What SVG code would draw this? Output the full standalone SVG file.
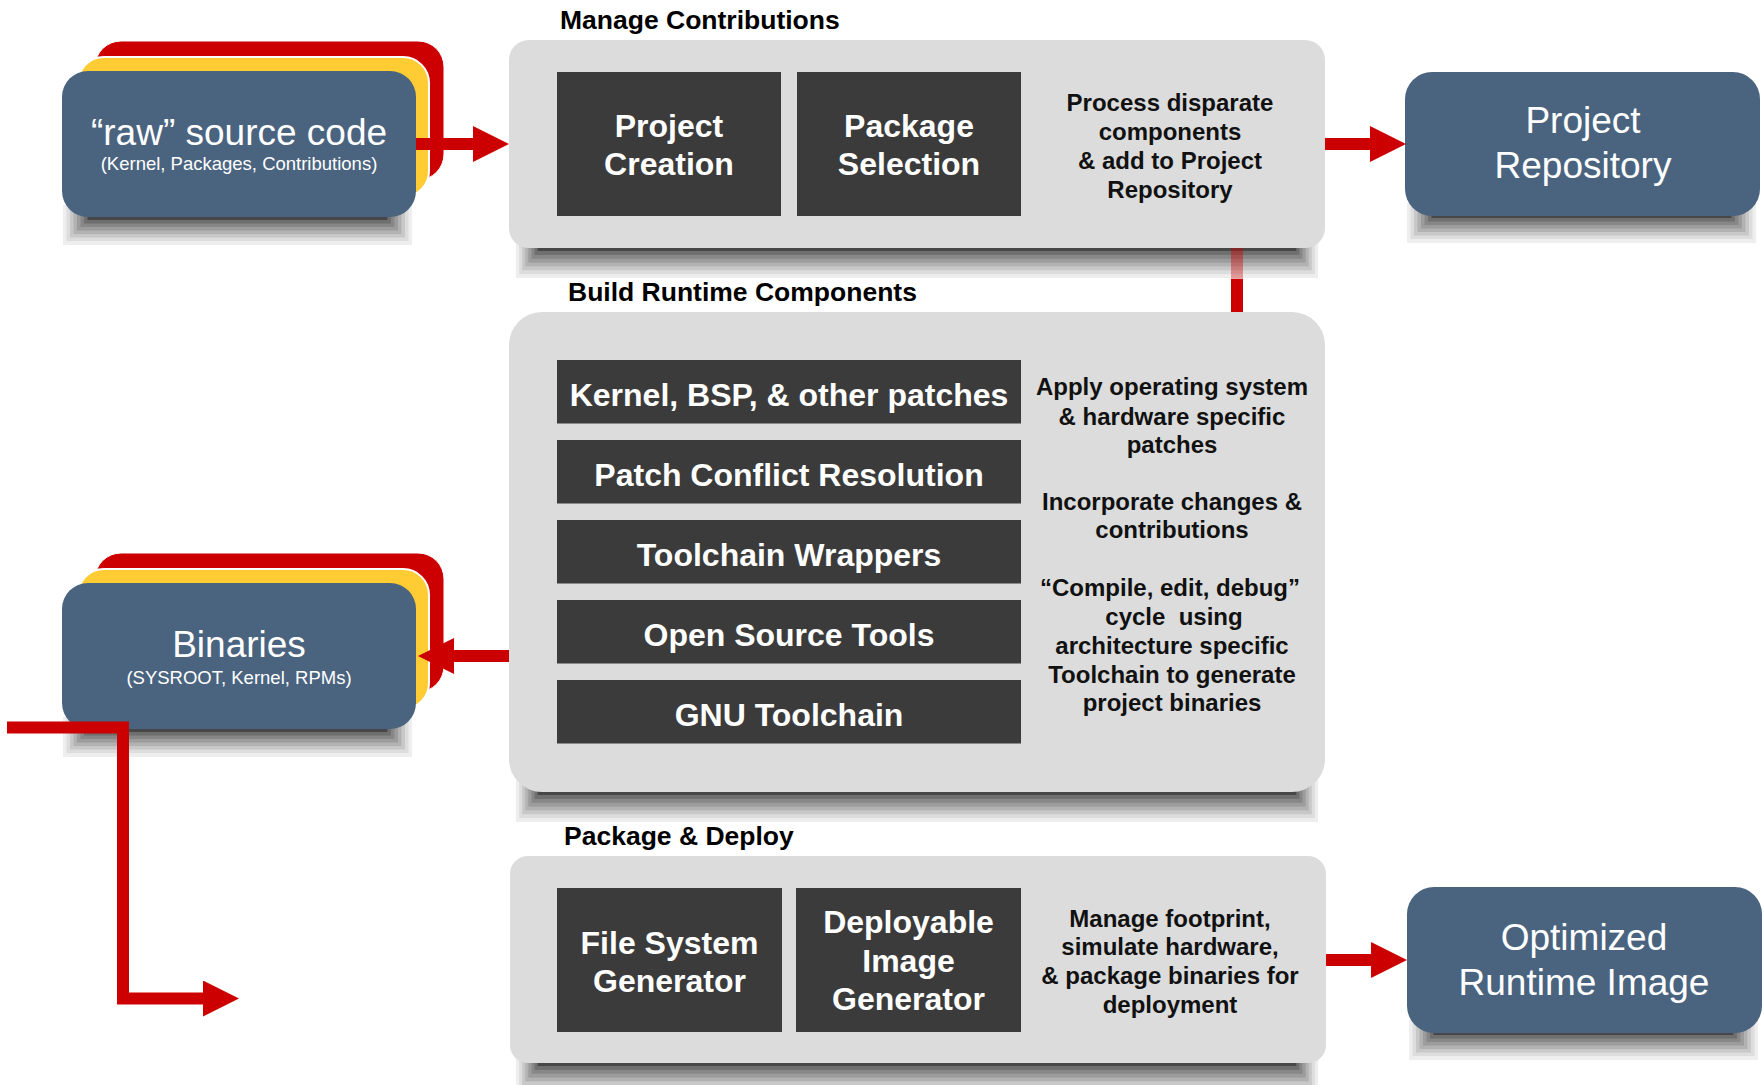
<svg xmlns="http://www.w3.org/2000/svg" width="1764" height="1085" viewBox="0 0 1764 1085">
<defs>
<style>
.panel{fill:#dcdcdc}
.dark{fill:#3b3b3b}
.blue{fill:#4a6480}
.red{fill:#cc0000;stroke:#fff;stroke-width:1}
.yel{fill:#ffcc33;stroke:#fff;stroke-width:2}
text{font-family:"Liberation Sans",Arial,Helvetica,sans-serif}
.title{font-weight:bold;font-size:26.5px;fill:#000}
.lbl{font-weight:bold;font-size:32px;fill:#fff;text-anchor:middle}
.desc{font-weight:bold;font-size:24px;fill:#111;text-anchor:middle}
.big{font-size:37px;fill:#fff;text-anchor:middle}
.small{font-size:18.5px;fill:#fff;text-anchor:middle}
.h0{fill:#eeeeee}.h1{fill:#dddddd}.h2{fill:#c8c8c8}.h3{fill:#b2b2b2}.h4{fill:#9c9c9c}.h5{fill:#878787}.h6{fill:#6f6f6f}.h7{fill:#474747}
.conn{fill:none;stroke:#cc0000;stroke-width:12;stroke-linejoin:miter}
</style>
<marker id="ah" viewBox="0 0 3 3" refX="0" refY="1.5" markerWidth="3" markerHeight="3" markerUnits="strokeWidth" orient="auto"><path d="M0,0L3,1.5L0,3z" fill="#cc0000"/></marker>
<linearGradient id="fade" gradientUnits="userSpaceOnUse" x1="0" y1="248" x2="0" y2="312">
<stop offset="0" stop-color="#cc0000" stop-opacity="0.45"/>
<stop offset="0.48" stop-color="#cc0000" stop-opacity="0.35"/>
<stop offset="0.49" stop-color="#cc0000" stop-opacity="1"/>
<stop offset="1" stop-color="#cc0000" stop-opacity="1"/>
</linearGradient>
<g id="shSmall">
<rect class="h0" x="63" y="205" width="349" height="40"/>
<rect class="h1" x="66.5" y="205" width="342" height="36"/>
<rect class="h2" x="70" y="205" width="335" height="32.5"/>
<rect class="h3" x="73.5" y="205" width="328" height="29"/>
<rect class="h4" x="77" y="205" width="321" height="25.5"/>
<rect class="h5" x="80.5" y="205" width="314" height="22"/>
<rect class="h6" x="84" y="205" width="307" height="18.5"/>
<rect class="h7" x="87.5" y="205" width="300" height="15"/>
</g>
<g id="shPanel">
<rect class="h0" x="516" y="235" width="802" height="43"/>
<rect class="h1" x="519.1" y="235" width="795.8" height="39.1"/>
<rect class="h2" x="522.2" y="235" width="789.6" height="35.3"/>
<rect class="h3" x="525.3" y="235" width="783.4" height="31.4"/>
<rect class="h4" x="528.4" y="235" width="777.2" height="27.6"/>
<rect class="h5" x="531.5" y="235" width="771" height="23.7"/>
<rect class="h6" x="534.6" y="235" width="764.8" height="19.9"/>
<rect class="h7" x="537.7" y="235" width="758.6" height="16"/>
</g>
</defs>

<g id="shadows">
<use href="#shSmall"/>
<use href="#shSmall" transform="translate(0,512)"/>
<use href="#shSmall" transform="translate(1344,-2)"/>
<use href="#shSmall" transform="translate(1346,815)"/>
<use href="#shPanel"/>
<use href="#shPanel" transform="translate(0,544)"/>
<use href="#shPanel" transform="translate(0,815)"/>
</g>

<g id="source">
<rect class="red" x="95" y="41" width="349" height="139" rx="26"/>
<rect class="yel" x="78" y="57" width="351" height="140" rx="26"/>
<rect class="blue" x="62" y="71" width="354" height="146" rx="26"/>
<text class="big" x="239" y="145">“raw” source code</text>
<text class="small" x="239" y="170">(Kernel, Packages, Contributions)</text>
</g>

<g id="binaries">
<rect class="red" x="95" y="553" width="349" height="139" rx="26"/>
<rect class="yel" x="78" y="569" width="351" height="140" rx="26"/>
<rect class="blue" x="62" y="583" width="354" height="146" rx="26"/>
<text class="big" x="239" y="657">Binaries</text>
<text class="small" x="239" y="684">(SYSROOT, Kernel, RPMs)</text>
</g>

<g id="manage">
<text class="title" x="560" y="29">Manage Contributions</text>
<rect class="panel" x="509" y="40" width="816" height="208" rx="20"/>
<rect class="dark" x="557" y="72" width="224" height="144"/>
<text class="lbl" x="669" y="137">Project</text>
<text class="lbl" x="669" y="175">Creation</text>
<rect class="dark" x="797" y="72" width="224" height="144"/>
<text class="lbl" x="909" y="137">Package</text>
<text class="lbl" x="909" y="175">Selection</text>
<text class="desc" x="1170" y="111">Process disparate</text>
<text class="desc" x="1170" y="139.5">components</text>
<text class="desc" x="1170" y="168.5">&amp; add to Project</text>
<text class="desc" x="1170" y="197.5">Repository</text>
</g>

<g id="build">
<text class="title" x="568" y="301">Build Runtime Components</text>
<rect class="panel" x="509" y="312" width="816" height="480" rx="33"/>
<rect class="dark" x="557" y="360" width="464" height="63.5"/>
<text class="lbl" x="789" y="405.7">Kernel, BSP, &amp; other patches</text>
<rect class="dark" x="557" y="440" width="464" height="63.5"/>
<text class="lbl" x="789" y="485.7">Patch Conflict Resolution</text>
<rect class="dark" x="557" y="520" width="464" height="63.5"/>
<text class="lbl" x="789" y="565.7">Toolchain Wrappers</text>
<rect class="dark" x="557" y="600" width="464" height="63.5"/>
<text class="lbl" x="789" y="645.7">Open Source Tools</text>
<rect class="dark" x="557" y="680" width="464" height="63.5"/>
<text class="lbl" x="789" y="725.7">GNU Toolchain</text>
<text class="desc" x="1172" y="395.4">Apply operating system</text>
<text class="desc" x="1172" y="424.6">&amp; hardware specific</text>
<text class="desc" x="1172" y="452.5">patches</text>
<text class="desc" x="1172" y="510">Incorporate changes &amp;</text>
<text class="desc" x="1172" y="538.3">contributions</text>
<text class="desc" x="1170" y="596">“Compile, edit, debug”</text>
<text class="desc" x="1174" y="625.4" xml:space="preserve">cycle  using</text>
<text class="desc" x="1172" y="653.6">architecture specific</text>
<text class="desc" x="1172" y="683">Toolchain to generate</text>
<text class="desc" x="1172" y="711">project binaries</text>
</g>

<g id="package">
<text class="title" x="564" y="845">Package &amp; Deploy</text>
<rect class="panel" x="510" y="856" width="816" height="207" rx="18"/>
<rect class="dark" x="557" y="888" width="225" height="144"/>
<text class="lbl" x="669.5" y="954">File System</text>
<text class="lbl" x="669.5" y="992">Generator</text>
<rect class="dark" x="796" y="888" width="225" height="144"/>
<text class="lbl" x="908.5" y="933">Deployable</text>
<text class="lbl" x="908.5" y="972">Image</text>
<text class="lbl" x="908.5" y="1010">Generator</text>
<text class="desc" x="1170" y="926.5">Manage footprint,</text>
<text class="desc" x="1170" y="955">simulate hardware,</text>
<text class="desc" x="1170" y="984">&amp; package binaries for</text>
<text class="desc" x="1170" y="1013">deployment</text>
</g>

<g id="repository">
<rect class="blue" x="1405" y="72" width="355" height="144" rx="27"/>
<text class="big" x="1583" y="133">Project</text>
<text class="big" x="1583" y="177.5">Repository</text>
</g>

<g id="runtime-image">
<rect class="blue" x="1407" y="887" width="355" height="146" rx="27"/>
<text class="big" x="1584" y="950">Optimized</text>
<text class="big" x="1584" y="995">Runtime Image</text>
</g>

<g id="connectors">
<path class="conn" d="M416,144H473" marker-end="url(#ah)"/>
<path class="conn" d="M1325,144H1370" marker-end="url(#ah)"/>
<path class="conn" d="M509,656H454" marker-end="url(#ah)"/>
<path class="conn" d="M1326,960H1371" marker-end="url(#ah)"/>
<path class="conn" d="M7,727.5H123V998.5H203" marker-end="url(#ah)"/>
<path d="M1237,248V312" fill="none" stroke="url(#fade)" stroke-width="12"/>
</g>
</svg>
